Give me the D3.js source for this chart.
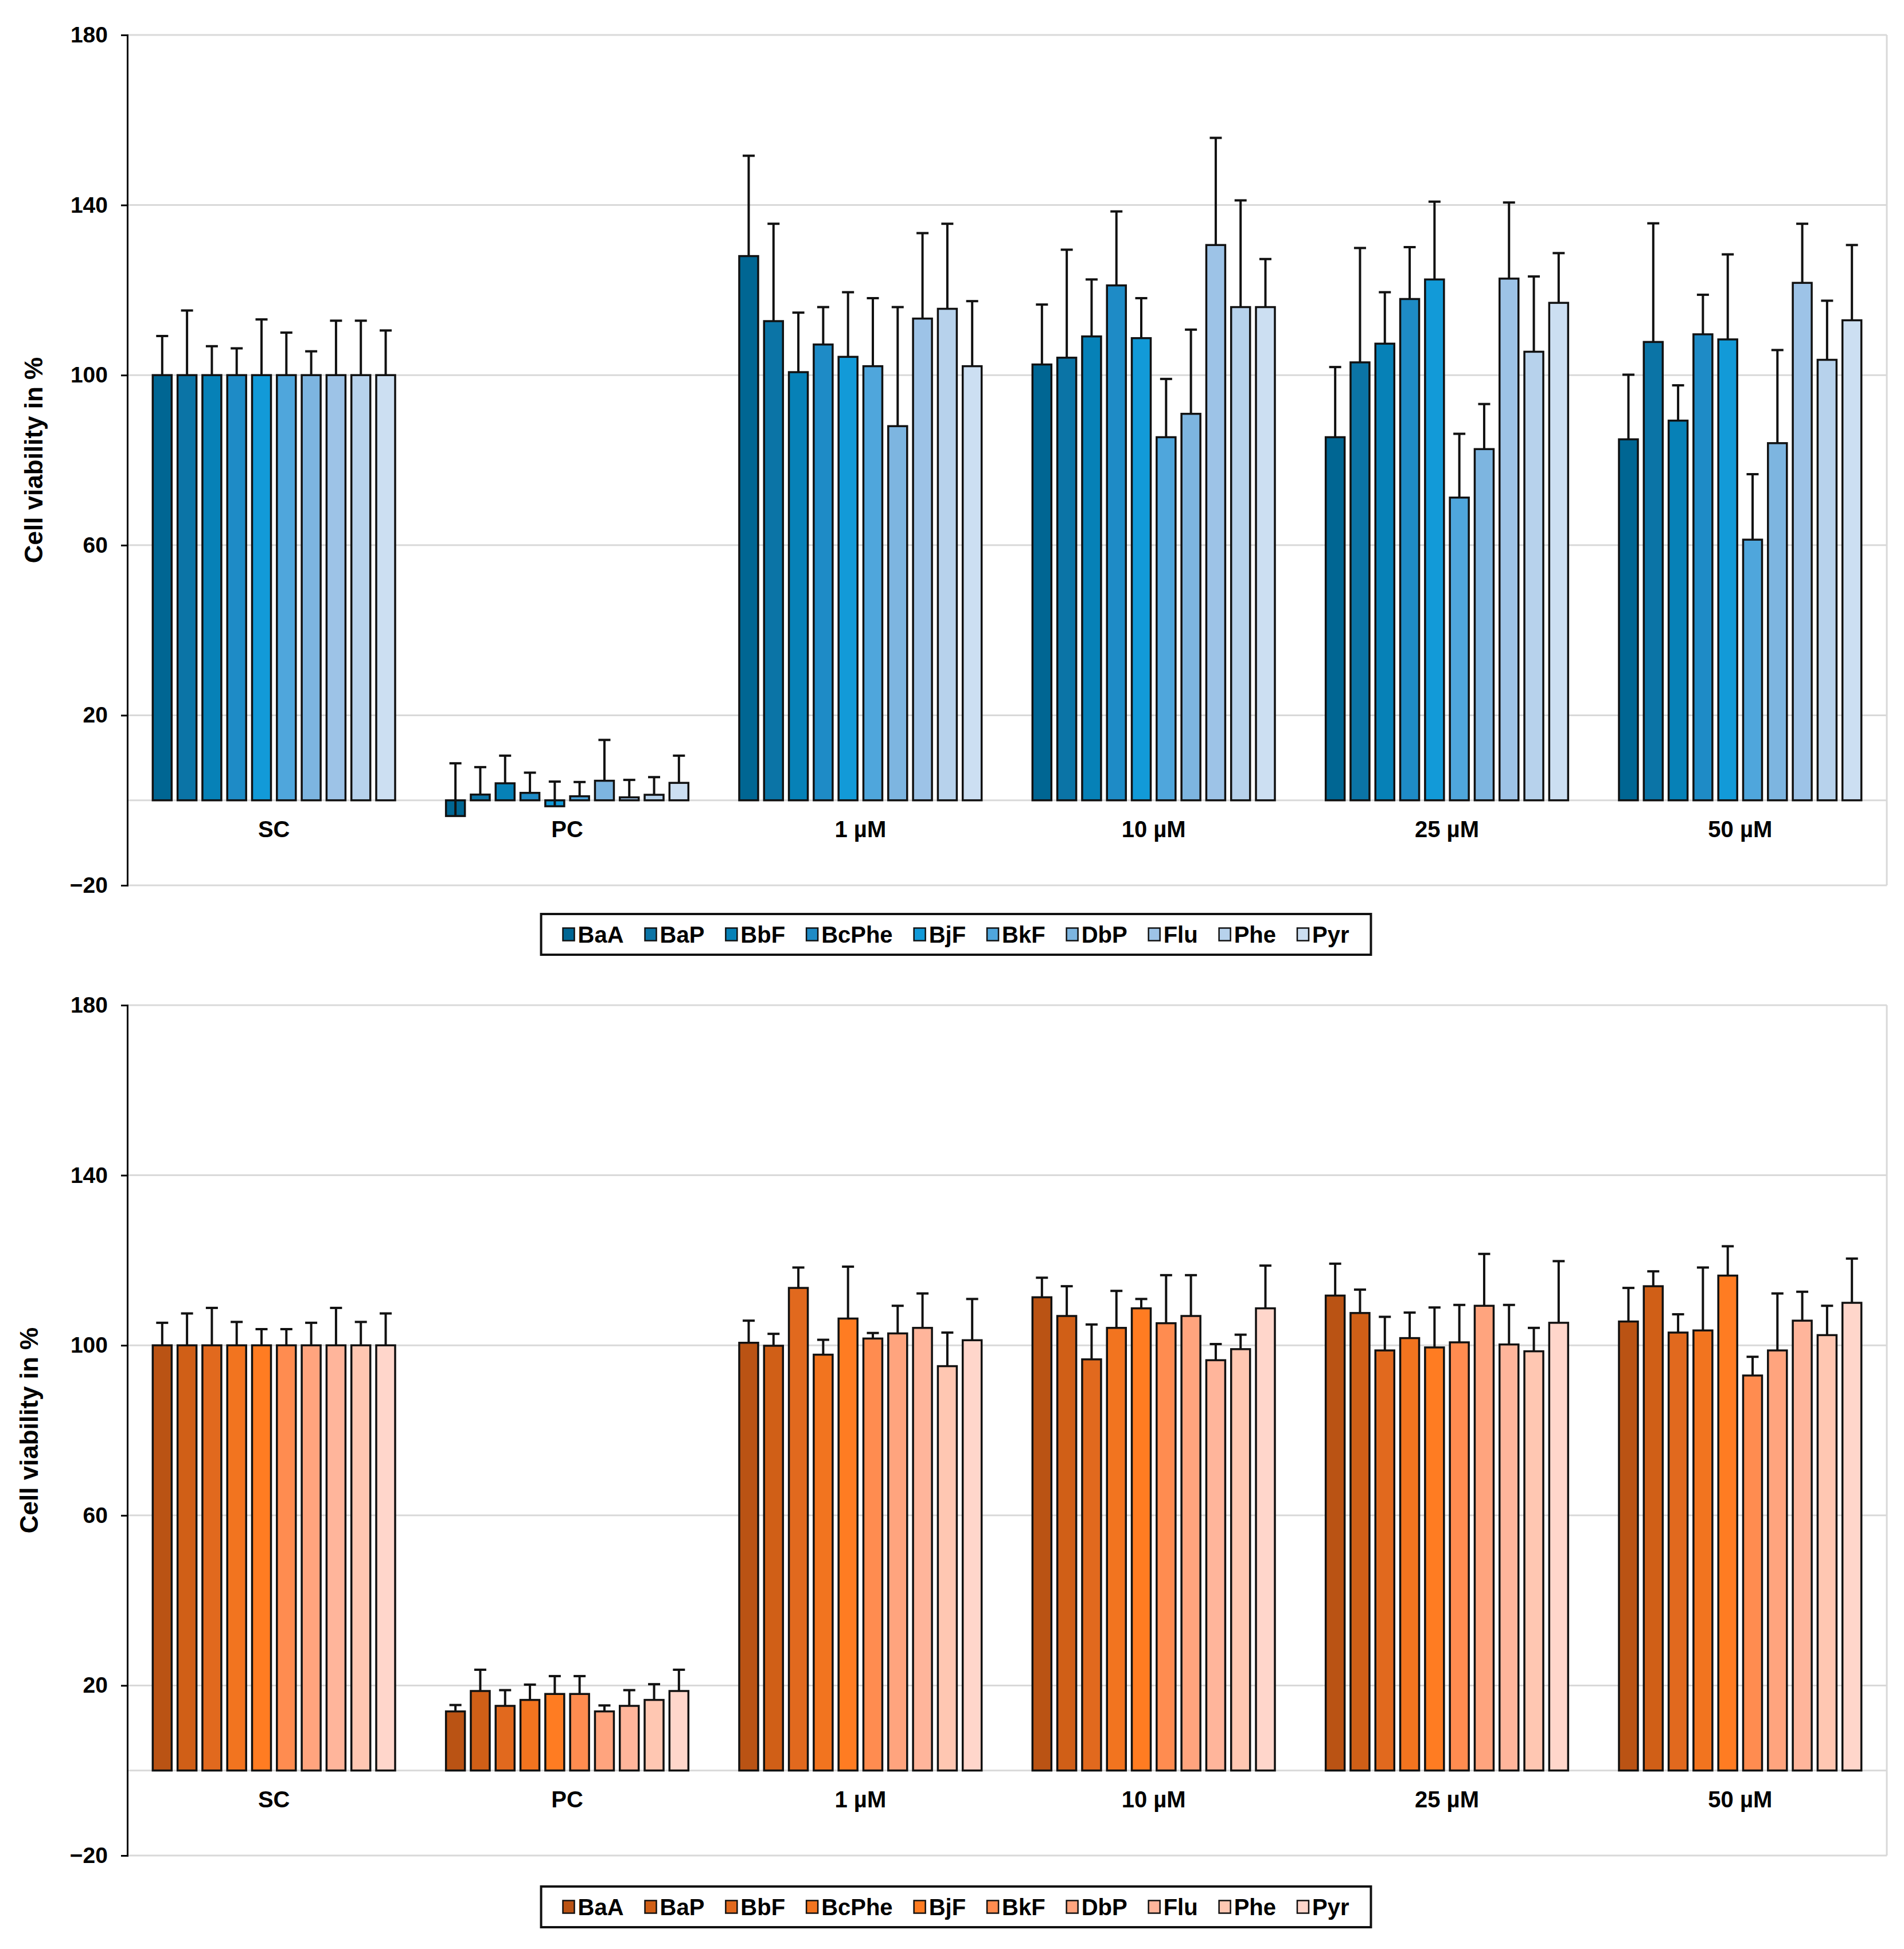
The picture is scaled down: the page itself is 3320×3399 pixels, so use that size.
<!DOCTYPE html>
<html lang="en">
<head>
    <meta charset="UTF-8">
    <title>Cell viability</title>
    <style>
        body { margin: 0; background: #fff; }
        text { font-family: "Liberation Sans", Arial, sans-serif; font-weight: bold; }
    </style>
</head>
<body>
    <div class="chart"></div>

    <script src="https://d3js.org/d3.v7.min.js"></script>
    <script>
        // groups along the x axis and the ten substances
        var groups = ["SC", "PC", "1 µM", "10 µM", "25 µM", "50 µM"]
        var series = ["BaA", "BaP", "BbF", "BcPhe", "BjF", "BkF", "DbP", "Flu", "Phe", "Pyr"]
        var yTicks = [-20, 20, 60, 100, 140, 180]

        // upper panel: mean values per group (rows) and substance (columns)
        var topMeans = [
            [100, 100, 100, 100, 100, 100, 100, 100, 100, 100],
            [-3.7, 1.35, 4.0, 1.75, -1.4, 0.95, 4.6, 0.7, 1.3, 4.1],
            [128.0, 112.7, 100.7, 107.2, 104.3, 102.1, 88.0, 113.3, 115.6, 102.1],
            [102.5, 104.1, 109.1, 121.1, 108.7, 85.4, 90.9, 130.6, 116.0, 116.0],
            [85.4, 103.0, 107.4, 117.9, 122.5, 71.2, 82.6, 122.7, 105.5, 117.0],
            [84.9, 107.8, 89.3, 109.6, 108.4, 61.3, 84.0, 121.7, 103.6, 112.9]
        ]
        // upper panel: standard deviations
        var topSd = [
            [9.2, 15.2, 6.8, 6.3, 13.1, 10.0, 5.6, 12.8, 12.8, 10.5],
            [12.4, 6.45, 6.5, 4.75, 5.8, 3.35, 9.6, 4.1, 4.15, 6.4],
            [23.6, 22.9, 14.0, 8.8, 15.2, 16.0, 28.0, 20.1, 20.0, 15.3],
            [14.1, 25.4, 13.4, 17.4, 9.4, 13.7, 19.8, 25.2, 25.1, 11.3],
            [16.5, 26.9, 12.1, 12.2, 18.3, 15.0, 10.6, 17.9, 17.7, 11.7],
            [15.2, 27.9, 8.3, 9.3, 20.0, 15.4, 21.9, 13.9, 13.9, 17.7]
        ]

        // lower panel
        var bottomMeans = [
            [100, 100, 100, 100, 100, 100, 100, 100, 100, 100],
            [13.9, 18.7, 15.2, 16.6, 18.0, 18.0, 13.9, 15.2, 16.6, 18.7],
            [100.6, 99.9, 113.5, 97.8, 106.3, 101.6, 102.8, 104.1, 95.1, 101.2],
            [111.3, 106.9, 96.7, 104.1, 108.7, 105.2, 106.9, 96.5, 99.1, 108.7],
            [111.7, 107.6, 98.8, 101.7, 99.5, 100.7, 109.3, 100.2, 98.6, 105.3],
            [105.6, 113.9, 103.0, 103.5, 116.4, 92.9, 98.8, 105.8, 102.4, 110.0]
        ]
        var bottomSd = [
            [5.3, 7.5, 8.8, 5.5, 3.8, 3.8, 5.3, 8.8, 5.5, 7.5],
            [1.5, 5.0, 3.7, 3.6, 4.2, 4.2, 1.4, 3.7, 3.7, 5.0],
            [5.2, 2.8, 4.8, 3.5, 12.2, 1.3, 6.5, 8.1, 7.9, 9.7],
            [4.6, 7.0, 8.2, 8.7, 2.2, 11.3, 9.6, 3.8, 3.4, 10.05],
            [7.5, 5.5, 7.9, 6.0, 9.4, 8.8, 12.2, 9.3, 5.5, 14.5],
            [7.9, 3.5, 4.3, 14.8, 6.9, 4.4, 13.4, 6.8, 6.9, 10.4]
        ]

        var blues = ["#006693", "#0B74A6", "#0681B7", "#1E8BC6", "#129AD8",
                     "#4FA6DC", "#7DB5E0", "#9DC3E7", "#B7D2EC", "#CCDFF2"]
        var oranges = ["#BA5314", "#D05F17", "#E1691E", "#F2741F", "#FF7C22",
                       "#FF8C50", "#FFA47E", "#FFB59B", "#FFC7B2", "#FFD6CB"]

        var width = 3320
        var height = 3399
        var left = 222, right = 3290
        var plotH = 1483
        var gridColor = "#D9D9D9"

        var svg = d3.select("div.chart").append("svg")
            .attr("width", width)
            .attr("height", height)

        var x0 = d3.scaleBand().domain(groups).range([left, right]).padding(0)
        var span = 433
        var x1 = d3.scaleBand().domain(series).range([0, span])
            .paddingInner(0.238).paddingOuter(0.119)

        function drawPanel(top, means, sds, colors, labelX, legendGap) {
            var y = d3.scaleLinear().domain([-20, 180]).range([top + plotH, top])
            var g = svg.append("g")

            // gridlines + frame
            g.selectAll("line.grid")
              .data(yTicks.concat([0]))
              .enter()
              .append("line")
              .attr("class", "grid")
              .attr("x1", left).attr("x2", right)
              .attr("y1", d => y(d)).attr("y2", d => y(d))
              .attr("stroke", gridColor)
              .attr("stroke-width", 3)

            g.append("line")
              .attr("x1", right).attr("x2", right)
              .attr("y1", y(180)).attr("y2", y(-20))
              .attr("stroke", gridColor)
              .attr("stroke-width", 3)

            var rows = []
            means.forEach(function(row, gi) {
                row.forEach(function(v, si) {
                    rows.push({ group: groups[gi], s: series[si], si: si, v: v, sd: sds[gi][si] })
                })
            })

            function bx(d) {
                return x0(d.group) + (x0.bandwidth() - span) / 2 + x1(d.s)
            }

            g.selectAll("rect.bar")
              .data(rows)
              .enter()
              .append("rect")
              .attr("class", "bar")
              .attr("x", bx)
              .attr("width", x1.bandwidth())
              .attr("y", d => Math.min(y(d.v), y(0)))
              .attr("height", d => Math.abs(y(d.v) - y(0)))
              .attr("fill", d => colors[d.si])
              .attr("stroke", "#111")
              .attr("stroke-width", 3.5)

            // plus-only error bars
            var cap = 21
            var eb = g.selectAll("g.err")
              .data(rows)
              .enter()
              .append("g")
              .attr("class", "err")
            eb.append("line")
              .attr("x1", d => bx(d) + x1.bandwidth() / 2)
              .attr("x2", d => bx(d) + x1.bandwidth() / 2)
              .attr("y1", d => y(d.v))
              .attr("y2", d => y(d.v + d.sd))
              .attr("stroke", "#111")
              .attr("stroke-width", 4)
            eb.append("line")
              .attr("x1", d => bx(d) + x1.bandwidth() / 2 - cap / 2)
              .attr("x2", d => bx(d) + x1.bandwidth() / 2 + cap / 2)
              .attr("y1", d => y(d.v + d.sd))
              .attr("y2", d => y(d.v + d.sd))
              .attr("stroke", "#111")
              .attr("stroke-width", 4)

            // y axis
            var yAxis = g.append("g")
              .attr("transform", "translate(" + left + ",0)")
              .call(d3.axisLeft(y).tickValues(yTicks).tickSize(11).tickPadding(23))
            yAxis.select(".domain").attr("stroke", "#000").attr("stroke-width", 3)
            yAxis.selectAll(".tick line").attr("stroke", "#000").attr("stroke-width", 3)
            yAxis.selectAll(".tick text")
              .style("font-size", "39px")
              .style("font-family", "'Liberation Sans', Arial, sans-serif")
              .style("font-weight", "bold")
              .attr("fill", "#000")

            // category labels under the zero line
            var xAxis = g.append("g")
              .attr("transform", "translate(0," + y(0) + ")")
              .call(d3.axisBottom(x0).tickSize(0).tickPadding(36))
            xAxis.select(".domain").remove()
            xAxis.selectAll(".tick text")
              .style("font-size", "40px")
              .style("font-family", "'Liberation Sans', Arial, sans-serif")
              .style("font-weight", "bold")
              .attr("fill", "#000")

            g.append("text")
              .attr("transform", "translate(" + labelX + "," + (top + plotH / 2) + ") rotate(-90)")
              .attr("text-anchor", "middle")
              .attr("dy", "0.36em")
              .style("font-size", "44px")
              .text("Cell viability in %")

            // legend: box first, items on top, then size the box
            var legend = g.append("g")
            var box = legend.append("rect")
              .attr("fill", "#fff")
              .attr("stroke", "#111")
              .attr("stroke-width", 4)
            var lg = legend.append("g")
            var lx = 0
            var sw = 20, gapText = 6, gapItem = 37
            series.forEach(function(name, i) {
                var it = lg.append("g").attr("transform", "translate(" + lx + ",0)")
                it.append("rect")
                  .attr("x", 0).attr("y", -11)
                  .attr("width", sw).attr("height", 22)
                  .attr("fill", colors[i])
                  .attr("stroke", "#111")
                  .attr("stroke-width", 2.5)
                var t = it.append("text")
                  .attr("x", sw + gapText)
                  .attr("dy", "0.36em")
                  .style("font-size", "40px")
                  .text(name)
                lx += sw + gapText + t.node().getComputedTextLength() + gapItem
            })
            lx -= gapItem
            var boxW = lx + 76
            var boxX = 1667 - boxW / 2
            var boxY = y(-20) + legendGap
            var boxH = 71
            box.attr("x", boxX).attr("y", boxY)
              .attr("width", boxW).attr("height", boxH)
            lg.attr("transform", "translate(" + (boxX + 38) + "," + (boxY + boxH / 2) + ")")
        }

        drawPanel(61, topMeans, topSd, blues, 58, 50)
        drawPanel(1753, bottomMeans, bottomSd, oranges, 50, 54)
    </script>
</body>
</html>
